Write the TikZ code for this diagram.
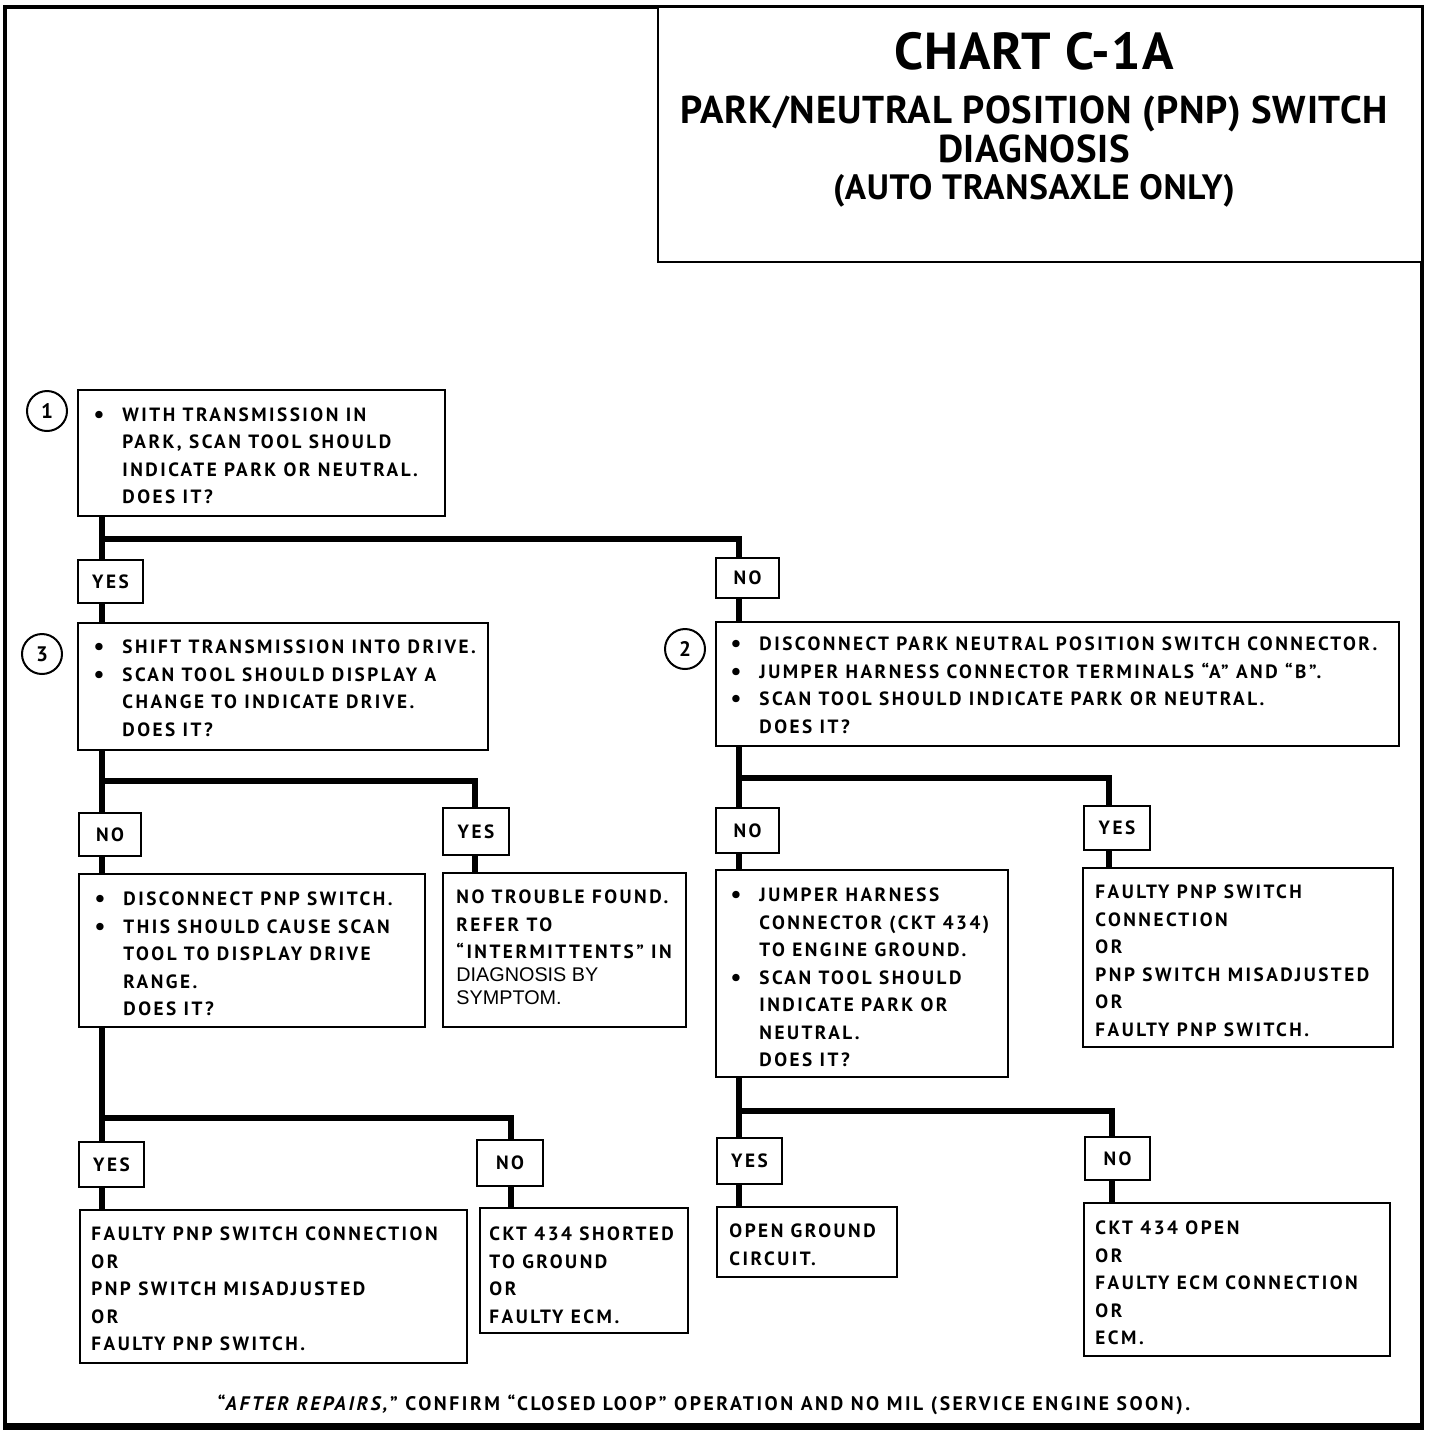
\documentclass[tikz,border=0pt]{standalone}
\usepackage{fontspec}
\usetikzlibrary{fit,backgrounds}
\newfontfamily\cf{PT Sans}[LetterSpace=13]
\newfontfamily\tf{PT Sans}[LetterSpace=2]
\newfontfamily\rf{Liberation Sans}
\newcommand\bodyf{\cf\bfseries\fontsize{9.6}{13.75}\selectfont}
\newcommand\bul{\llap{\raisebox{-0.5pt}{\fontsize{12}{12}\selectfont\textbullet}\hspace{9pt}}}
\tikzset{
  frame/.style={draw, line width=2pt, inner sep=0pt},
  box/.style={draw, line width=1.2pt, fill=white, inner sep=0pt},
  lab/.style={draw, line width=1.2pt, fill=white, inner sep=0pt, font=\bodyf},
  conn/.style={line width=2.8pt, line join=miter},
  num/.style={draw, circle, line width=1pt, minimum size=20pt, inner sep=0pt, font=\tf\bfseries\fontsize{10.5}{12}\selectfont},
  txt/.style={anchor=base west, inner sep=0pt, font=\bodyf},
  foottxt/.style={anchor=base, inner sep=0pt, font=\cf\bfseries\fontsize{9.8}{12}\selectfont},
}
\begin{document}
\begin{tikzpicture}[x=0.5pt,y=-0.5pt]
\useasboundingbox (0,0) rectangle (1440,1432);
\node[frame, fit={(5,7)(1422,1425)}] (frame) {};
\draw[line width=3pt] (frame.south west) -- (frame.south east);
% title
\node[box, fit={(658,7)(1422,262)}] (title) {};
\node[anchor=base, inner sep=0pt, font=\tf\bfseries\fontsize{26}{30}\selectfont] (h1) at (1034,69) {CHART C-1A};
\node[anchor=base, inner sep=0pt, font=\tf\bfseries\fontsize{19.4}{23}\selectfont] (h2) at (1034,123) {PARK/NEUTRAL POSITION (PNP) SWITCH};
\node[anchor=base, inner sep=0pt, font=\tf\bfseries\fontsize{19.4}{23}\selectfont] (h3) at (1034,162) {DIAGNOSIS};
\node[anchor=base, inner sep=0pt, font=\tf\bfseries\fontsize{17.6}{20}\selectfont] (h4) at (1034,199) {(AUTO TRANSAXLE ONLY)};

% step 1
\node[num] (c1) at (47,411) {1};
\node[box, fit={(78,390)(445,516)}] (b1) {};
\node[txt] (t1) at (122,421) {\begin{tabular}[t]{@{}l@{}}\bul WITH TRANSMISSION IN\\PARK, SCAN TOOL SHOULD\\INDICATE PARK OR NEUTRAL.\\DOES IT?\end{tabular}};
\node[lab, minimum width=32.5pt, minimum height=21.5pt] (y1) at (110.5,581.5) {YES};
\node[lab, minimum width=31.5pt, minimum height=20pt] (n1) at (747.5,578) {NO};

% step 3
\node[num] (c3) at (42,654) {3};
\node[box, fit={(78,623)(488,750)}] (b3) {};
\node[txt] (t3) at (122,653.5) {\begin{tabular}[t]{@{}l@{}}\bul SHIFT TRANSMISSION INTO DRIVE.\\\bul SCAN TOOL SHOULD DISPLAY A\\CHANGE TO INDICATE DRIVE.\\DOES IT?\end{tabular}};
\node[lab, minimum width=31pt, minimum height=21.5pt] (n3) at (110,834.5) {NO};
\node[lab, minimum width=33pt, minimum height=23.5pt] (y3) at (476,831.5) {YES};

\node[box, fit={(79,874)(425,1027)}] (bd) {};
\node[txt] (td) at (123,905.5) {\begin{tabular}[t]{@{}l@{}}\bul DISCONNECT PNP SWITCH.\\\bul THIS SHOULD CAUSE SCAN\\TOOL TO DISPLAY DRIVE\\RANGE.\\DOES IT?\end{tabular}};
\node[box, fit={(443,873)(686,1027)}] (bn) {};
\node[txt] (tn) at (456,903.5) {\begin{tabular}[t]{@{}l@{}}NO TROUBLE FOUND.\\REFER TO\\“INTERMITTENTS” IN\\[-2.2pt]{\rf\mdseries\fontsize{9.9}{11}\selectfont DIAGNOSIS BY}\\[-2.2pt]{\rf\mdseries\fontsize{9.9}{11}\selectfont SYMPTOM.}\end{tabular}};

\node[lab, minimum width=32.5pt, minimum height=22.5pt] (y4) at (111.5,1164.5) {YES};
\node[lab, minimum width=33pt, minimum height=23pt] (n4) at (510,1163) {NO};
\node[box, fit={(80,1210)(467,1363)}] (bf1) {};
\node[txt] (tf1) at (91,1240.5) {\begin{tabular}[t]{@{}l@{}}FAULTY PNP SWITCH CONNECTION\\OR\\PNP SWITCH MISADJUSTED\\OR\\FAULTY PNP SWITCH.\end{tabular}};
\node[box, fit={(480,1208)(688,1333)}] (bf2) {};
\node[txt] (tf2) at (489,1240.5) {\begin{tabular}[t]{@{}l@{}}CKT 434 SHORTED\\TO GROUND\\OR\\FAULTY ECM.\end{tabular}};

% step 2
\node[num] (c2) at (685,649) {2};
\node[box, fit={(716,622)(1399,746)}] (b2) {};
\node[txt] (t2) at (759,650.5) {\begin{tabular}[t]{@{}l@{}}\bul DISCONNECT PARK NEUTRAL POSITION SWITCH CONNECTOR.\\\bul JUMPER HARNESS CONNECTOR TERMINALS “A” AND “B”.\\\bul SCAN TOOL SHOULD INDICATE PARK OR NEUTRAL.\\DOES IT?\end{tabular}};
\node[lab, minimum width=31.5pt, minimum height=22.5pt] (n2) at (747.5,830.5) {NO};
\node[lab, minimum width=33pt, minimum height=22pt] (y2) at (1117,828) {YES};

\node[box, fit={(716,870)(1008,1077)}] (bj) {};
\node[txt] (tj) at (759,901.5) {\begin{tabular}[t]{@{}l@{}}\bul JUMPER HARNESS\\CONNECTOR (CKT 434)\\TO ENGINE GROUND.\\\bul SCAN TOOL SHOULD\\INDICATE PARK OR\\NEUTRAL.\\DOES IT?\end{tabular}};
\node[box, fit={(1083,868)(1393,1047)}] (br) {};
\node[txt] (tr) at (1095,898.5) {\begin{tabular}[t]{@{}l@{}}FAULTY PNP SWITCH\\CONNECTION\\OR\\PNP SWITCH MISADJUSTED\\OR\\FAULTY PNP SWITCH.\end{tabular}};

\node[lab, minimum width=32.5pt, minimum height=23pt] (y5) at (749.5,1161) {YES};
\node[lab, minimum width=32.5pt, minimum height=21.5pt] (n5) at (1117.5,1158.5) {NO};
\node[box, fit={(717,1207)(897,1277)}] (bo) {};
\node[txt] (to) at (729,1237.5) {\begin{tabular}[t]{@{}l@{}}OPEN GROUND\\CIRCUIT.\end{tabular}};
\node[box, fit={(1084,1203)(1390,1356)}] (bc) {};
\node[txt] (tc) at (1095,1234.5) {\begin{tabular}[t]{@{}l@{}}CKT 434 OPEN\\OR\\FAULTY ECM CONNECTION\\OR\\ECM.\end{tabular}};

% footer
\node[foottxt] (foot) at (704,1410) {“\textit{AFTER REPAIRS,}” CONFIRM “CLOSED LOOP” OPERATION AND NO MIL (SERVICE ENGINE SOON).};

% connectors
\begin{scope}[on background layer]
\draw[conn] ([xshift=12.5pt]b1.south west) -- ([xshift=12.5pt]b3.north west);
\draw[conn] ([xshift=12.5pt]b1.south west) ++(0,22) -| ([xshift=12pt]b2.north west);
\draw[conn] ([xshift=12.5pt]b3.south west) -- ([xshift=12pt]bd.north west);
\draw[conn] ([xshift=12.5pt]b3.south west) ++(0,30) -| ([xshift=16.5pt]bn.north west);
\draw[conn] ([xshift=12pt]bd.south west) -- ([xshift=11.5pt]bf1.north west);
\draw[conn] ([xshift=12pt]bd.south west) ++(0,90) -| ([xshift=16pt]bf2.north west);
\draw[conn] ([xshift=12pt]b2.south west) -- ([xshift=12pt]bj.north west);
\draw[conn] ([xshift=12pt]b2.south west) ++(0,31) -| ([xshift=13.5pt]br.north west);
\draw[conn] ([xshift=12pt]bj.south west) -- ([xshift=11.5pt]bo.north west);
\draw[conn] ([xshift=12pt]bj.south west) ++(0,33) -| ([xshift=14.5pt]bc.north west);
\end{scope}
\end{tikzpicture}
\end{document}
